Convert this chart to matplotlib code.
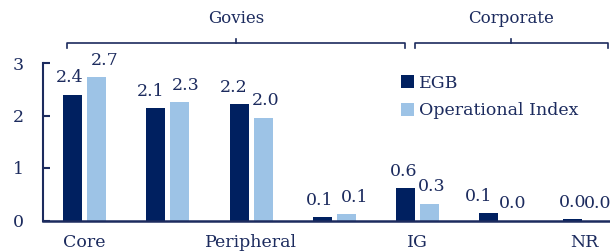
import matplotlib
matplotlib.use("Agg")
import matplotlib.pyplot as plt
import matplotlib.transforms as mtransforms
import numpy as np

categories = ["Core", "", "Peripheral", "", "IG", "", "NR"]
egb = [2.40, 2.14, 2.21, 0.06, 0.61, 0.14, 0.02]
operational = [2.73, 2.26, 1.96, 0.12, 0.32, 0.0, 0.0]
series_names = ["EGB", "Operational Index"]
groups = [("Govies", -0.21, 3.85), ("Corporate", 3.97, 6.28)]

# hand-nudged label offsets (pixels), like the original
egb_label_dx = [-3, -5, -5, -3, -2, -10, 0]
op_label_dx = [8, 6, 2.5, 8, 2, 0, 1.5]

NAVY = "#1c2b5e"
DARK = "#002060"
LIGHT = "#9dc3e6"


def main():
    plt.rcParams["font.family"] = ["DejaVu Serif"]
    plt.rcParams["font.size"] = 12.5
    plt.rcParams["text.color"] = NAVY

    fig = plt.figure(figsize=(6.10, 2.52), dpi=100)
    ax = fig.add_axes([43 / 610, 31.5 / 252, 1 - 43 / 610, 157.5 / 252])

    x = np.arange(len(categories))
    w = 0.228
    b1 = ax.bar(x - 0.144, egb, w, color=DARK, label=series_names[0])
    b2 = ax.bar(x + 0.144, operational, w, color=LIGHT, label=series_names[1])
    for bars, dxs in ((b1, egb_label_dx), (b2, op_label_dx)):
        labels = ax.bar_label(bars, fmt="%.1f", padding=6, color=NAVY,
                              fontsize=12.5)
        for t, dx in zip(labels, dxs):
            t.xyann = (dx * 0.72, 6)
            t.set_clip_on(False)

    ax.set_xlim(-0.5, 6.31)
    ax.set_ylim(0, 3)
    ax.set_yticks([0, 1, 2, 3])
    ax.set_xticks(x)
    ax.set_xticklabels(categories)

    for s in ("top", "right"):
        ax.spines[s].set_visible(False)
    ax.spines["left"].set_color(NAVY)
    ax.spines["left"].set_linewidth(1.5)
    ax.spines["bottom"].set_color(NAVY)
    ax.spines["bottom"].set_linewidth(1.8)
    ax.tick_params(axis="y", direction="in", length=5, width=1.5,
                   color=NAVY, labelcolor=NAVY, pad=14)
    ax.tick_params(axis="x", length=0, labelcolor=NAVY, pad=10)

    # group brackets above the plot
    trans = mtransforms.blended_transform_factory(ax.transData, ax.transAxes)
    for name, x0, x1 in groups:
        xm = (x0 + x1) / 2
        ax.plot([x0, x0, x1, x1], [1.095, 1.127, 1.127, 1.095],
                color=NAVY, lw=1.2, transform=trans, clip_on=False)
        ax.plot([xm, xm], [1.127, 1.152], color=NAVY, lw=1.2,
                transform=trans, clip_on=False)
        ax.text(xm, 1.285, name, ha="center", va="center", fontsize=12,
                transform=trans)

    ax.legend(loc="upper left", bbox_to_anchor=(392 / 610, 1 - 66 / 252),
              bbox_transform=fig.transFigure, frameon=False,
              handlelength=0.75, handleheight=0.75, handletextpad=0.3,
              labelspacing=0.62, borderpad=0, fontsize=12.5,
              labelcolor=NAVY)

    fig.savefig("out.png", dpi=100)


if __name__ == "__main__":
    main()
